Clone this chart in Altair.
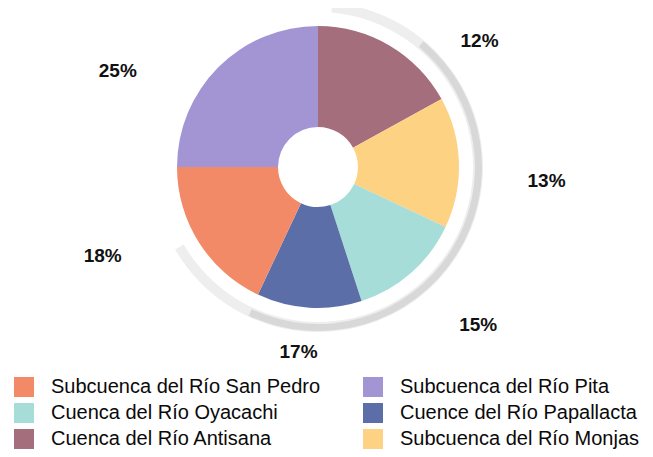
import altair as alt
import pandas as pd

# ---- data (clockwise from 12 o'clock) ----
categories = [
    "Cuenca del Río Antisana",
    "Subcuenca del Río Monjas",
    "Cuenca del Río Oyacachi",
    "Cuence del Río Papallacta",
    "Subcuenca del Río San Pedro",
    "Subcuenca del Río Pita",
]
slice_share = [17, 15, 13, 12, 18, 25]          # angular share of each slice (%)
label_text = ["12%", "13%", "15%", "17%", "18%", "25%"]  # printed labels, clockwise

# legend order (column-major, two columns) and colours
legend_order = [
    "Subcuenca del Río San Pedro",
    "Cuenca del Río Oyacachi",
    "Cuenca del Río Antisana",
    "Subcuenca del Río Pita",
    "Cuence del Río Papallacta",
    "Subcuenca del Río Monjas",
]
legend_colors = ["#f28a68", "#a6ddd8", "#a46e7c", "#a395d4", "#5b6ea8", "#fdd283"]

# ---- layout (label anchors in polar form around the pie centre) ----
label_angle = [52, 93.5, 134.6, 186, 247.5, 295.6]
label_radius = [205, 229, 225, 186, 233, 222]

W, H = 620, 318
PAD = {"left": 0, "top": 0, "right": 17, "bottom": 123}
FONT = "Liberation Sans"

slices = pd.DataFrame({"cat": categories, "share": slice_share,
                       "ord": list(range(len(categories)))})
labels = pd.DataFrame({"txt": label_text, "ang": label_angle, "r": label_radius})
one = pd.DataFrame({"k": [0]})

TWO_PI = 6.283185307

shadow_light = alt.Chart(one).mark_arc(
    theta=5 / 360 * TWO_PI, theta2=240 / 360 * TWO_PI, innerRadius=155, outerRadius=165,
    color="#eeeeee"
).encode(opacity=alt.value(1))

shadow_dark = alt.Chart(one).mark_arc(
    theta=40 / 360 * TWO_PI, theta2=205 / 360 * TWO_PI, innerRadius=157, outerRadius=164,
    color="#d8d8d8"
).encode(opacity=alt.value(1))

pie = alt.Chart(slices).mark_arc(innerRadius=40, outerRadius=141).encode(
    theta=alt.Theta("share:Q", stack=True),
    order=alt.Order("ord:Q"),
    color=alt.Color(
        "cat:N",
        scale=alt.Scale(domain=legend_order, range=legend_colors),
        legend=alt.Legend(
            title=None, orient="none", legendX=6, legendY=369, columns=2,
            symbolType="square", symbolSize=400, symbolStrokeWidth=0,
            labelFontSize=20, labelFont=FONT, labelColor="#0a0a0a",
            labelLimit=500, labelOffset=17, rowPadding=6, columnPadding=42,
            padding=0, symbolOpacity=1,
        ),
    ),
)

text = alt.Chart(labels).mark_text(
    font=FONT, fontSize=19, fontWeight="bold", color="#111111"
).encode(
    theta=alt.Theta("ang:Q", scale=alt.Scale(domain=[0, 360], range=[0, TWO_PI])),
    radius=alt.Radius("r:Q", scale=alt.Scale(type="linear", domain=[0, 300], range=[0, 300])),
    text="txt:N",
)

chart = (
    alt.layer(shadow_light, shadow_dark, pie, text)
    .resolve_scale(theta="independent", radius="independent")
    .properties(width=W, height=H, padding=PAD,
                autosize=alt.AutoSizeParams(type="none"))
    .configure_view(stroke=None)
)

chart.save("out.html", embed_options={"renderer": "svg", "actions": False})
